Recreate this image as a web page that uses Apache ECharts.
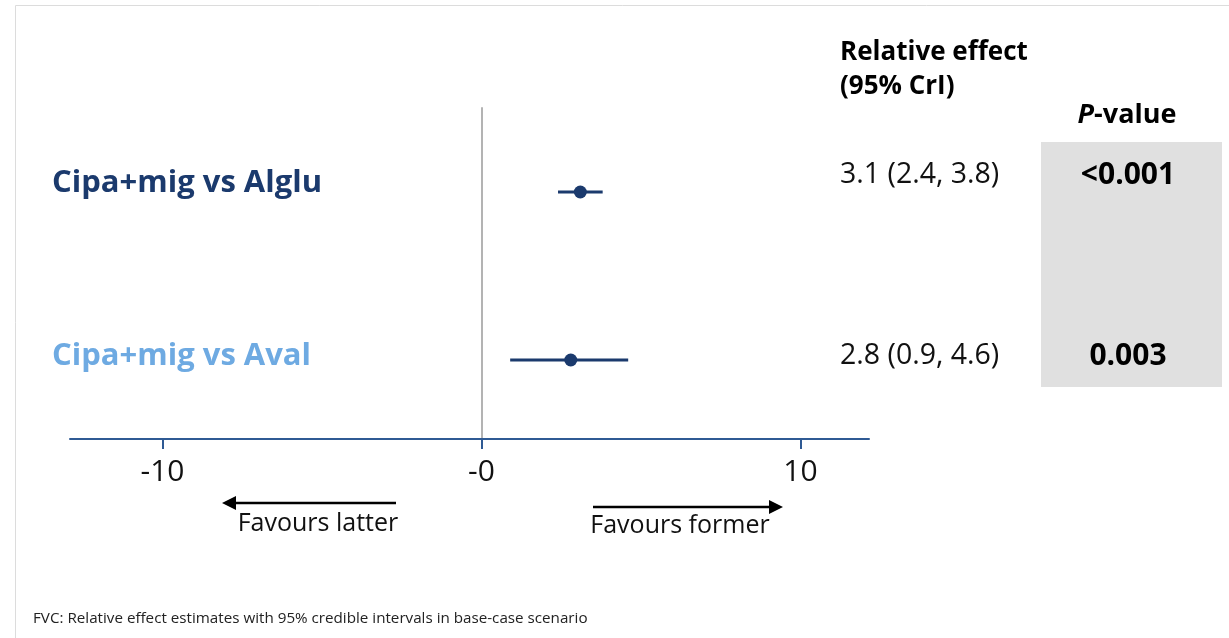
<!DOCTYPE html>
<html>
<head>
<meta charset="utf-8">
<script src="https://cdn.jsdelivr.net/npm/echarts@6/dist/echarts.min.js"></script>
<style>
  html, body { margin: 0; padding: 0; background: #ffffff; }
  #chart { width: 1229px; height: 638px; }
</style>
</head>
<body>
<div id="chart"></div>
<script>
// Forest plot data: relative effect on FVC with 95% credible intervals
const comparisons = ['Cipa+mig vs Alglu', 'Cipa+mig vs Aval'];
const estimates = [3.1, 2.8];
const lowerCrI = [2.4, 0.9];
const upperCrI = [3.8, 4.6];
const effectTexts = ['3.1 (2.4, 3.8)', '2.8 (0.9, 4.6)'];
const pValues = ['<0.001', '0.003'];
const tickValues = [-10, 0, 10];
const tickLabels = ['-10', '-0', '10'];
const footnote = 'FVC: Relative effect estimates with 95% credible intervals in base-case scenario';

const FONT = '"Open Sans", "Noto Sans", sans-serif';
const NAVY = '#1b3a6d';
const LIGHT = '#6eaae2';
const AXIS_BLUE = '#2f5a94';
const rowStyles = ['alglu', 'aval'];

const chart = echarts.init(document.getElementById('chart'), null, { renderer: 'canvas' });

const points = comparisons.map((name, i) => [estimates[i], lowerCrI[i], upperCrI[i], name]);

// Right-hand columns: effect estimate text and p-values per row
const effectY = [175, 356];
const columnTexts = [];
comparisons.forEach((name, i) => {
  columnTexts.push({ type: 'text', x: 840, y: effectY[i],
    style: { text: effectTexts[i], fontFamily: FONT, fontSize: 28.5, fill: '#111', verticalAlign: 'middle' } });
  columnTexts.push({ type: 'text', x: 1128, y: effectY[i],
    style: { text: pValues[i], fontFamily: FONT, fontSize: 30, fontWeight: 'bold', fill: '#000',
             align: 'center', verticalAlign: 'middle' } });
});

chart.setOption({
  backgroundColor: '#ffffff',
  animation: false,
  grid: { left: 70, right: 360, top: 108, bottom: 194, outerBoundsMode: 'none', containLabel: false },
  xAxis: {
    type: 'value',
    min: -12.9,
    max: 12.15,
    offset: -5,
    z: 5,
    splitLine: { show: false },
    axisLine: { show: true, onZero: false, lineStyle: { color: AXIS_BLUE, width: 2 } },
    axisTick: {
      show: true,
      customValues: tickValues,
      length: 10,
      lineStyle: { color: AXIS_BLUE, width: 2 }
    },
    axisLabel: {
      customValues: tickValues,
      margin: 18,
      fontFamily: FONT,
      fontSize: 30,
      color: '#111111',
      formatter: v => tickLabels[tickValues.indexOf(v)]
    }
  },
  yAxis: [{
    // row labels at the left edge of the plot
    type: 'category',
    inverse: true,
    data: comparisons,
    position: 'left',
    axisLine: { show: false, onZero: false },
    axisTick: { show: false },
    splitLine: { show: false },
    axisLabel: {
      align: 'left',
      margin: 18,
      formatter: (v, i) => '{' + rowStyles[i] + '|' + v + '}',
      rich: {
        alglu: { fontFamily: FONT, fontSize: 31, fontWeight: 'bold', color: NAVY, padding: [0, 0, 18, 0] },
        aval: { fontFamily: FONT, fontSize: 31, fontWeight: 'bold', color: LIGHT, padding: [0, 0, 8, 0] }
      }
    }
  }, {
    // zero reference line at x = 0
    type: 'category',
    inverse: true,
    data: comparisons,
    axisLine: { show: true, onZero: true, lineStyle: { color: '#b3b3b3', width: 2 } },
    axisTick: { show: false },
    axisLabel: { show: false },
    splitLine: { show: false }
  }],
  series: [{
    type: 'custom',
    dimensions: ['est', 'lo', 'hi', 'row'],
    data: points,
    encode: { x: ['est', 'lo', 'hi'], y: 'row' },
    renderItem: (params, api) => {
      const row = api.value('row');
      const lo = api.coord([api.value('lo'), row]);
      const hi = api.coord([api.value('hi'), row]);
      const mid = api.coord([api.value('est'), row]);
      return {
        type: 'group',
        children: [
          { type: 'line', shape: { x1: lo[0], y1: lo[1], x2: hi[0], y2: hi[1] },
            style: { stroke: NAVY, lineWidth: 3 } },
          { type: 'circle', shape: { cx: mid[0], cy: mid[1], r: 6.5 },
            style: { fill: NAVY } }
        ]
      };
    }
  }],
  graphic: [
    // frame
    { type: 'rect', z: -10, shape: { x: 15.5, y: 5.5, width: 1300, height: 700 },
      style: { fill: null, stroke: '#dcdcdc', lineWidth: 1 } },
    // p-value shading
    { type: 'rect', z: -5, shape: { x: 1041, y: 142, width: 181, height: 245 },
      style: { fill: '#e0e0e0' } },
    // column headers
    { type: 'text', x: 840, y: 36,
      style: { text: 'Relative effect\n(95% CrI)', fontFamily: FONT, fontSize: 26, fontWeight: 'bold',
               lineHeight: 34, fill: '#000000' } },
    { type: 'text', x: 1127, y: 115,
      style: { text: '{i|P}{b|-value}', align: 'center', verticalAlign: 'middle',
               rich: {
                 i: { fontFamily: FONT, fontSize: 27, fontWeight: 'bold', fontStyle: 'italic', fill: '#000' },
                 b: { fontFamily: FONT, fontSize: 27, fontWeight: 'bold', fill: '#000' }
               } } },
    // direction arrows
    { type: 'line', shape: { x1: 396, y1: 503, x2: 232, y2: 503 }, style: { stroke: '#000', lineWidth: 2.5 } },
    { type: 'polygon', shape: { points: [[222, 503], [236, 496], [236, 510]] }, style: { fill: '#000' } },
    { type: 'text', x: 318, y: 524,
      style: { text: 'Favours latter', fontFamily: FONT, fontSize: 25, fill: '#111', align: 'center', verticalAlign: 'middle' } },
    { type: 'line', shape: { x1: 593, y1: 507, x2: 773, y2: 507 }, style: { stroke: '#000', lineWidth: 2.5 } },
    { type: 'polygon', shape: { points: [[783, 507], [769, 500], [769, 514]] }, style: { fill: '#000' } },
    { type: 'text', x: 680, y: 526,
      style: { text: 'Favours former', fontFamily: FONT, fontSize: 25, fill: '#111', align: 'center', verticalAlign: 'middle' } },
    // footnote
    { type: 'text', x: 33, y: 619,
      style: { text: footnote, fontFamily: FONT, fontSize: 15.2, fill: '#222', verticalAlign: 'middle' } }
  ].concat(columnTexts)
});
</script>
</body>
</html>
